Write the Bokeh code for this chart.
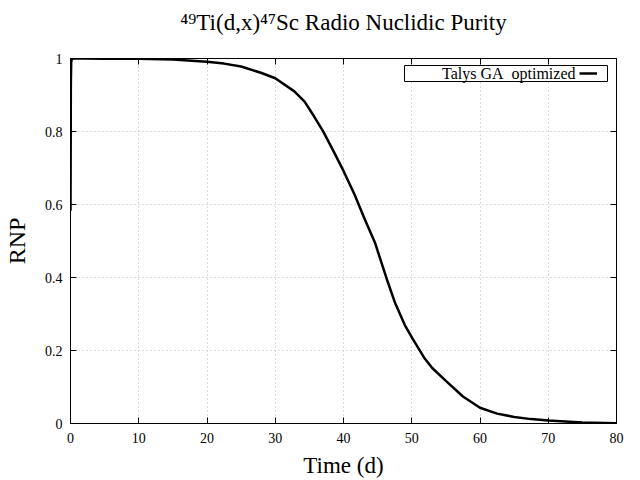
from bokeh.plotting import figure
from bokeh.models import (LinearAxis, Range1d, FixedTicker, BoxAnnotation, Label,
                          Legend, LegendItem, Title)
from bokeh.embed import file_html
from bokeh.resources import INLINE

# ---- data ----
time_d = [0.0, 0.05, 0.1, 0.2, 0.5, 1, 2, 5, 10, 15, 20, 22.5, 25, 27.9, 30, 32.8, 34.3,
          35.7, 37.0, 38.4, 40, 41.6, 43.1, 44.6, 46.3, 47.5, 49.0, 50.1, 51.9, 53, 55,
          57.5, 60, 62.5, 65, 67.5, 70, 75, 80]
rnp = [0.583, 0.93, 0.99, 0.999, 1.0, 1.0, 1.0, 0.9995, 0.999, 0.997, 0.991, 0.986,
       0.978, 0.961, 0.946, 0.910, 0.882, 0.841, 0.801, 0.751, 0.692, 0.628, 0.560,
       0.496, 0.398, 0.333, 0.269, 0.233, 0.178, 0.152, 0.117, 0.074, 0.043, 0.027,
       0.018, 0.012, 0.008, 0.003, 0.001]
series_label = "Talys GA  optimized"
x_ticks = [0, 10, 20, 30, 40, 50, 60, 70, 80]
y_ticks = [0, 0.2, 0.4, 0.6, 0.8, 1]
y_tick_labels = ["0", "0.2", "0.4", "0.6", "0.8", "1"]
title_text = "\u2074\u2079Ti(d,x)\u2074\u2077Sc Radio Nuclidic Purity"
x_label = "Time (d)"
y_label = "RNP"

FONT = "Liberation Serif"

p = figure(width=640, height=480, output_backend="svg", toolbar_location=None,
           x_range=Range1d(0, 80), y_range=Range1d(0, 1), title=None,
           min_border_left=70, min_border_right=24, min_border_top=58, min_border_bottom=54)

p.outline_line_color = "black"
p.outline_line_width = 1
p.outline_line_alpha = 1

for ax in (p.xaxis[0], p.yaxis[0]):
    ax.major_tick_in = 6
    ax.major_tick_out = 0
    ax.minor_tick_line_color = None
    ax.axis_line_color = "black"
    ax.major_tick_line_color = "black"
    ax.major_label_text_font = FONT
    ax.major_label_text_font_size = "14px"
    ax.major_label_text_color = "black"
    ax.axis_label_text_font = FONT
    ax.axis_label_text_font_style = "normal"
    ax.axis_label_text_color = "black"

p.xaxis.ticker = FixedTicker(ticks=x_ticks)
p.yaxis.ticker = FixedTicker(ticks=y_ticks)
p.yaxis.major_label_overrides = {t: s for t, s in zip(y_ticks, y_tick_labels)}
p.xaxis.axis_label = x_label
p.yaxis.axis_label = y_label
p.xaxis.axis_label_text_font_size = "23px"
p.yaxis.axis_label_text_font_size = "24px"
p.xaxis.major_label_standoff = 9
p.xaxis.axis_label_standoff = 7
p.yaxis.major_label_standoff = 8
p.yaxis.axis_label_standoff = 12

# mirrored tick axes (top / right), no labels
for loc, tk in (("above", x_ticks), ("right", y_ticks)):
    ax = LinearAxis(ticker=FixedTicker(ticks=tk), major_tick_in=6, major_tick_out=0,
                    minor_tick_line_color=None, major_label_text_font_size="0px",
                    major_label_text_color=None, major_label_standoff=0,
                    axis_line_color="black")
    p.add_layout(ax, loc)

# blank spacer title between the frame and the title, then the title itself
p.add_layout(Title(text=" ", text_font_size="10px", standoff=11), "above")
p.add_layout(Title(text=title_text, align="center", vertical_align="bottom", standoff=0,
                   text_font=FONT, text_font_size="23px", text_font_style="normal",
                   text_color="black"), "above")

p.xgrid.ticker = FixedTicker(ticks=x_ticks)
p.ygrid.ticker = FixedTicker(ticks=y_ticks)
for g in (p.xgrid[0], p.ygrid[0]):
    g.grid_line_color = "#b8b8b8"
    g.grid_line_dash = "1 3"
    g.grid_line_width = 1

r = p.line(time_d, rnp, line_color="black", line_width=2.5)

# gnuplot-style key: text on the left, line sample on the right
box = BoxAnnotation(left=334, right=537, bottom=342, top=358,
                    left_units="screen", right_units="screen",
                    top_units="screen", bottom_units="screen",
                    fill_color="white", fill_alpha=1, line_color="black", line_width=1,
                    line_alpha=1)
p.add_layout(box)
p.add_layout(Label(x=505, y=350, x_units="screen", y_units="screen",
                   text=series_label.replace("  ", "\u00a0 "),
                   text_align="right", text_baseline="middle", text_font=FONT,
                   text_font_size="16px", text_color="black"))
legend = Legend(items=[LegendItem(label=" ", renderers=[r])], location=(509, 342),
                glyph_width=18, glyph_height=16, label_height=16, label_width=0,
                label_standoff=0, padding=0, margin=0, spacing=0,
                border_line_color=None, background_fill_color=None,
                label_text_font_size="10px")
p.add_layout(legend)

open("out.html", "w").write(file_html(p, INLINE))
